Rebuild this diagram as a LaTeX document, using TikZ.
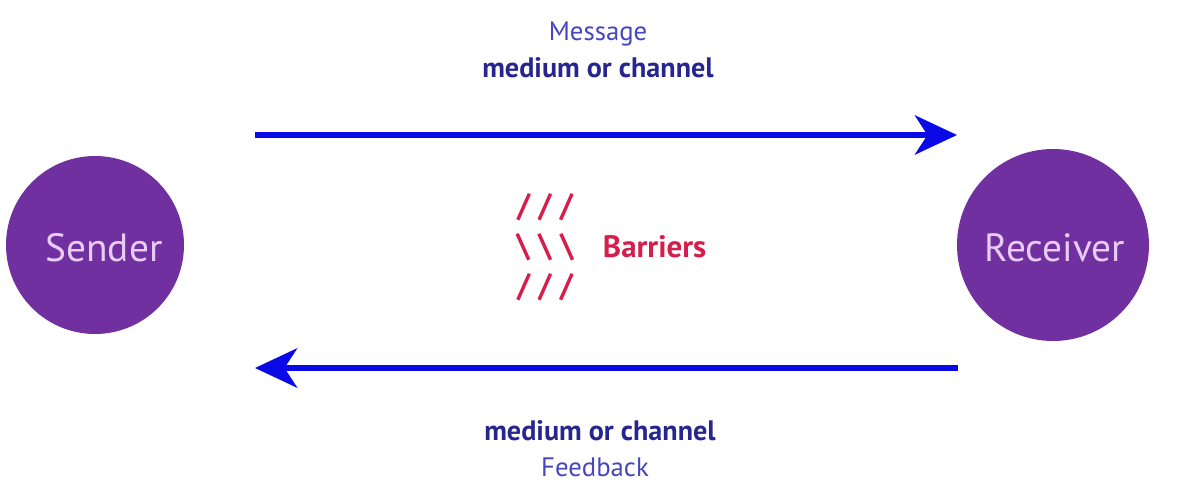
\documentclass[tikz,border=0pt]{standalone}
\usepackage{fontspec}
\setmainfont{PT Sans}
\usepackage{xcolor}
\usepackage{tikz}
\usetikzlibrary{arrows.meta}
\definecolor{plum}{HTML}{7030A0}
\definecolor{lilac}{HTML}{E8CCF6}
\definecolor{wire}{HTML}{0A0AE6}
\definecolor{navy}{HTML}{26268E}
\definecolor{slate}{HTML}{4646BE}
\definecolor{crimson}{HTML}{D41E4C}
\tikzset{fig/.style={line join=round,>={Stealth[length=30pt,width=28pt,inset=9pt]}},
  party/.style={circle,fill=plum,inner sep=0pt},
  who/.style={anchor=base,text=lilac,font=\fontsize{28}{30}\selectfont},
  flow/.style={wire,line width=3.6pt,->},
  tag/.style={anchor=base,font=\fontsize{19}{22}\selectfont,slate},
  chan/.style={anchor=base,font=\fontsize{20}{24}\selectfont\bfseries,navy},
  noise/.style={anchor=base,font=\fontsize{23}{26}\selectfont\bfseries,crimson}}

\begin{document}
\begin{tikzpicture}[fig,x=0.025cm,y=-0.025cm]
  \useasboundingbox(0,0)rectangle(1186,488);
  % the two parties
  \node[party,minimum size=178*0.025cm](snd)at(95,245){};
  \node[party,minimum size=192*0.025cm](rcv)at(1053,245){};
  \node[who](sndtxt)at(104,261){Sender};
  \node[who](rcvtxt)at(1055,261){Receiver};
  % channels
  \coordinate(mtail)at(255,135);\coordinate(mhead)at(957,135);
  \coordinate(ftail)at(958,368);\coordinate(fhead)at(255,368);
  \draw[flow](mtail)--(mhead);
  \draw[flow](ftail)--(fhead);
  \node[tag](msg)at(598,40){Message};
  \node[chan](mchan)at(598,77){medium or channel};
  \node[chan](fchan)at(600,440){medium or channel};
  \node[tag](fb)at(595,476){Feedback};
  % barriers
  \node[noise](bar1)at(545,216){/ / /};
  \node[noise](bar2)at(545,256){\textbackslash\ \textbackslash\ \textbackslash};
  \node[noise](bar3)at(545,296){/ / /};
  \node[noise,anchor=base west,font=\fontsize{22}{26}\selectfont\bfseries](barr)at(598,257){Barriers};
\end{tikzpicture}
\end{document}
